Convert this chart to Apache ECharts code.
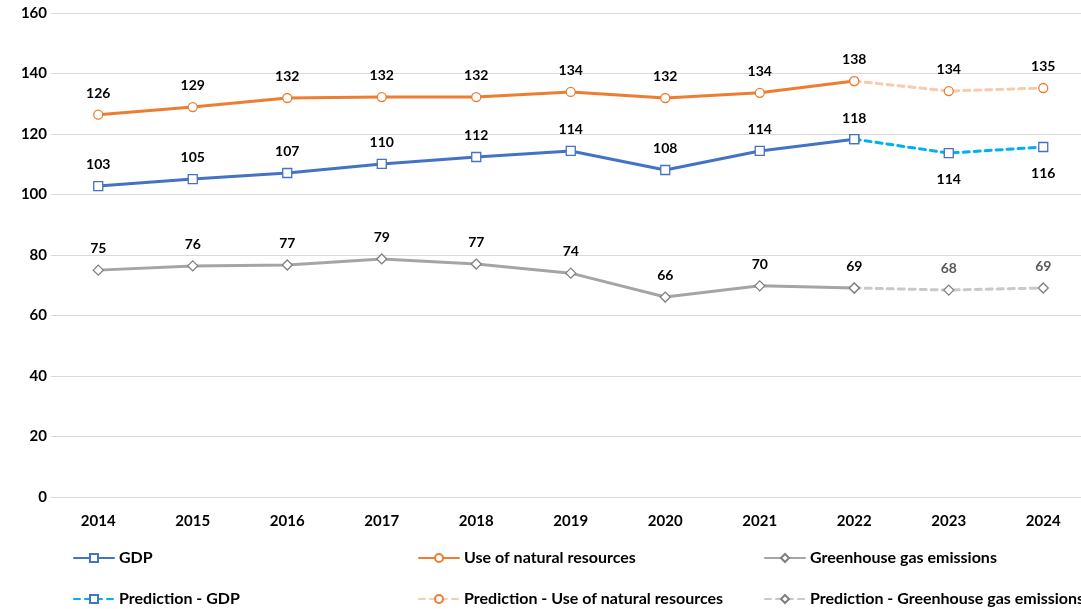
<!DOCTYPE html>
<html>
<head>
<meta charset="utf-8">
<script src="https://cdn.jsdelivr.net/npm/echarts@6/dist/echarts.min.js"></script>
<style>
  html, body { margin: 0; padding: 0; background: #ffffff; }
  #chart { width: 1081px; height: 609px; }
</style>
</head>
<body>
<div id="chart"></div>
<script>
// Years on the horizontal axis
const years = ['2014', '2015', '2016', '2017', '2018', '2019', '2020', '2021', '2022', '2023', '2024'];

// Index values (2022 is the last observed year; 2023-2024 are predictions)
const gdp       = [102.8, 105.1, 107.1, 110.1, 112.4, 114.4, 108.1, 114.4, 118.3, null, null];
const gdpPred   = [null, null, null, null, null, null, null, null, 118.3, 113.7, 115.7];
const resources     = [126.4, 128.9, 131.9, 132.2, 132.2, 133.9, 131.9, 133.6, 137.5, null, null];
const resourcesPred = [null, null, null, null, null, null, null, null, 137.5, 134.2, 135.2];
const ghg       = [75.0, 76.4, 76.7, 78.7, 77.0, 74.0, 66.1, 69.8, 69.1, null, null];
const ghgPred   = [null, null, null, null, null, null, null, null, 69.1, 68.4, 69.1];

// Vertical axis ticks
const yMin = 0, yMax = 160, yStep = 20;

const FONT = 'Lato, "Open Sans", sans-serif';
const C_GDP = '#4472C4', C_GDP_P = '#00B0F0';
const C_RES = '#ED7D31', C_RES_P = '#F8CBAD';
const C_GHG = '#A5A5A5', C_GHG_P = '#C9C9C9';

function roundLabel(p) { return p.value == null ? '' : Math.round(p.value); }

function labelStyle(position, color, skipFirstPred, distance) {
  return {
    show: true,
    position: position,
    distance: distance,
    color: color,
    fontFamily: FONT,
    fontWeight: 'bold',
    fontSize: 14,
    formatter: function (p) {
      // the 2022 point is already labelled by the observed series
      if (skipFirstPred && p.dataIndex === 8) return '';
      return roundLabel(p);
    }
  };
}

function lineSeries(name, data, color, symbol, markerColor, dashed, label) {
  return {
    name: name,
    type: 'line',
    data: data,
    connectNulls: false,
    symbol: symbol,
    symbolSize: symbol === 'diamond' ? 10 : 9,
    showAllSymbol: true,
    itemStyle: { color: '#ffffff', borderColor: markerColor, borderWidth: 1.3 },
    lineStyle: { color: color, width: 3, type: dashed ? [6, 5] : 'solid', cap: 'round' },
    label: label,
    emphasis: { disabled: true },
    z: dashed ? 2 : 3
  };
}

function legendAt(name, left, top) {
  return {
    data: [name],
    left: left,
    top: top,
    itemWidth: 40,
    itemHeight: 10,
    selectedMode: false,
    textStyle: { fontFamily: FONT, fontWeight: 'bold', fontSize: 16, color: '#000000' }
  };
}

const chart = echarts.init(document.getElementById('chart'), null, { renderer: 'canvas' });

chart.setOption({
  animation: false,
  backgroundColor: '#ffffff',
  grid: { left: 51, width: 1039.5, top: 13, bottom: 112, containLabel: false, outerBoundsMode: 'none' },
  legend: [
    legendAt('GDP', 68, 545),
    legendAt('Use of natural resources', 413, 545),
    legendAt('Greenhouse gas emissions', 759, 545),
    legendAt('Prediction - GDP', 68, 586),
    legendAt('Prediction - Use of natural resources', 413, 586),
    legendAt('Prediction - Greenhouse gas emissions', 759, 586)
  ],
  xAxis: {
    type: 'category',
    data: years,
    boundaryGap: true,
    axisLine: { show: true, lineStyle: { color: '#D9D9D9', width: 1 } },
    axisTick: { show: false },
    axisLabel: { color: '#000000', fontFamily: FONT, fontWeight: 'bold', fontSize: 15, margin: 17 }
  },
  yAxis: {
    type: 'value',
    min: yMin,
    max: yMax,
    interval: yStep,
    axisLine: { show: false },
    axisTick: { show: false },
    splitLine: { lineStyle: { color: '#D9D9D9', width: 1 } },
    axisLabel: { color: '#000000', fontFamily: FONT, fontWeight: 'bold', fontSize: 15, margin: 4 }
  },
  series: [
    lineSeries('GDP', gdp, C_GDP, 'rect', C_GDP, false, labelStyle('top', '#000000', false, 9)),
    lineSeries('Use of natural resources', resources, C_RES, 'circle', C_RES, false, labelStyle('top', '#000000', false, 9)),
    lineSeries('Greenhouse gas emissions', ghg, C_GHG, 'diamond', '#7F7F7F', false, labelStyle('top', '#000000', false, 9)),
    lineSeries('Prediction - GDP', gdpPred, C_GDP_P, 'rect', C_GDP, true, labelStyle('bottom', '#000000', true, 14)),
    lineSeries('Prediction - Use of natural resources', resourcesPred, C_RES_P, 'circle', C_RES, true, labelStyle('top', '#000000', true, 9)),
    lineSeries('Prediction - Greenhouse gas emissions', ghgPred, C_GHG_P, 'diamond', '#7F7F7F', true, labelStyle('top', '#595959', true, 9))
  ]
});
</script>
</body>
</html>
